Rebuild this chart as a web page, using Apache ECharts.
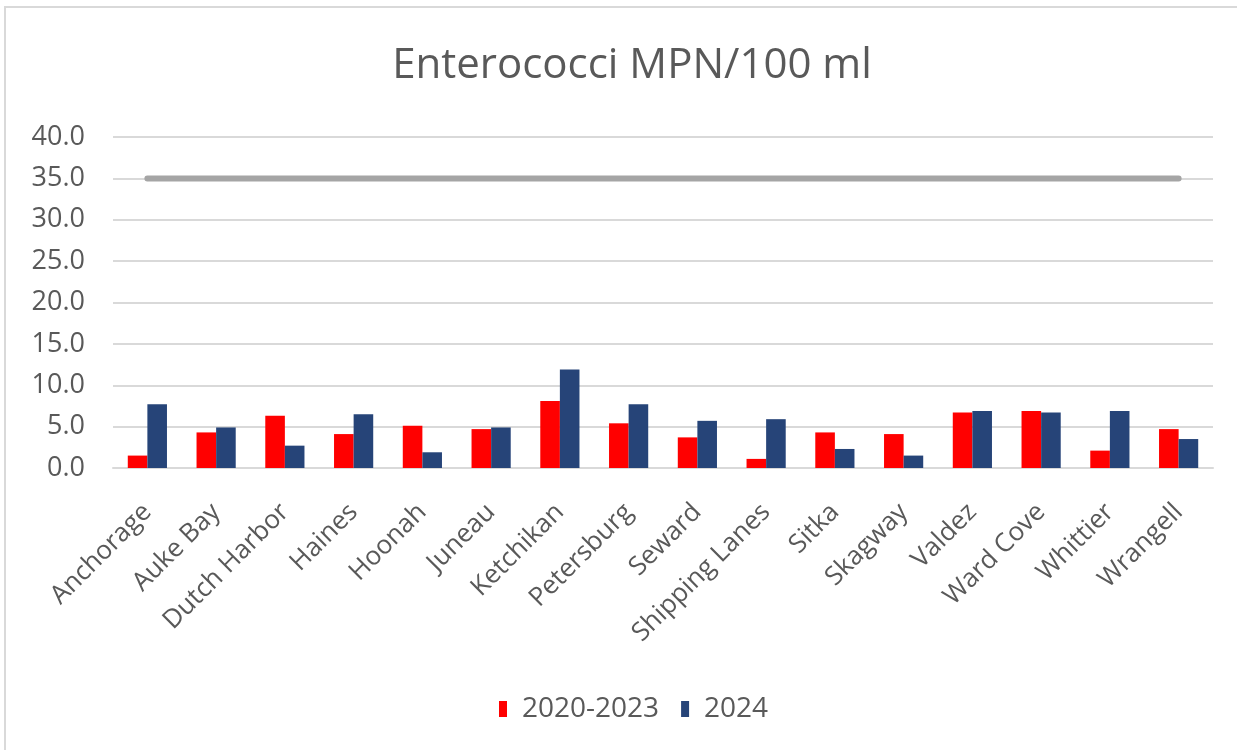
<!DOCTYPE html>
<html>
<head>
<meta charset="utf-8">
<script src="https://cdn.jsdelivr.net/npm/echarts@6/dist/echarts.min.js"></script>
<style>
  html, body { margin: 0; padding: 0; background: #fff; }
  #frame { position: absolute; left: 4px; top: 6px; width: 1240px; height: 760px; border: 2px solid #d9d9d9; box-sizing: border-box; }
  #chart { position: absolute; left: 0; top: 0; width: 1237px; height: 750px; }
</style>
</head>
<body>
<div id="frame"></div>
<div id="chart"></div>
<script>
const sites = ['Anchorage', 'Auke Bay', 'Dutch Harbor', 'Haines', 'Hoonah', 'Juneau', 'Ketchikan', 'Petersburg',
  'Seward', 'Shipping Lanes', 'Sitka', 'Skagway', 'Valdez', 'Ward Cove', 'Whittier', 'Wrangell'];
const baseline2020to2023 = [1.5, 4.3, 6.3, 4.1, 5.1, 4.7, 8.1, 5.4, 3.7, 1.1, 4.3, 4.1, 6.7, 6.9, 2.1, 4.7];
const year2024 = [7.7, 4.9, 2.7, 6.5, 1.9, 4.9, 11.9, 7.7, 5.7, 5.9, 2.3, 1.5, 6.9, 6.7, 6.9, 3.5];
const standardLimit = 35;
const limitLine = sites.map(() => standardLimit);

const textFont = 'Open Sans';
const chart = echarts.init(document.getElementById('chart'), null, { renderer: 'canvas' });
chart.setOption({
  animation: false,
  title: {
    text: 'Enterococci MPN/100 ml',
    left: 627,
    textAlign: 'center',
    top: 40,
    textStyle: { fontFamily: textFont, fontWeight: 'normal', fontSize: 42, color: '#595959' }
  },
  legend: {
    data: ['2020-2023', '2024'],
    top: 690,
    left: 494,
    itemWidth: 8,
    itemHeight: 16,
    itemGap: 22,
    icon: 'rect',
    textStyle: { fontFamily: textFont, fontSize: 28, color: '#595959', padding: [0, 0, 0, 10] }
  },
  grid: { left: 113, right: 24, top: 137, bottom: 282, containLabel: false },
  xAxis: {
    type: 'category',
    data: sites,
    axisLine: { lineStyle: { color: '#d9d9d9', width: 2 } },
    axisTick: { show: false },
    axisLabel: { rotate: 45, interval: 0, fontFamily: textFont, fontSize: 26, color: '#595959', margin: 40 }
  },
  yAxis: {
    type: 'value',
    min: 0,
    max: 40,
    interval: 5,
    axisLine: { show: false },
    axisTick: { show: false },
    splitLine: { lineStyle: { color: '#d9d9d9', width: 2 } },
    axisLabel: { formatter: v => v.toFixed(1), fontFamily: textFont, fontSize: 27, color: '#595959', margin: 28 }
  },
  series: [
    { name: '2020-2023', type: 'bar', data: baseline2020to2023, barGap: '0%', barCategoryGap: '43%',
      itemStyle: { color: '#ff0000' } },
    { name: '2024', type: 'bar', data: year2024, itemStyle: { color: '#264478' } },
    { name: 'Limit', type: 'line', data: limitLine, symbol: 'none', silent: true,
      lineStyle: { color: '#a5a5a5', width: 6, cap: 'round' } }
  ]
});
</script>
</body>
</html>
